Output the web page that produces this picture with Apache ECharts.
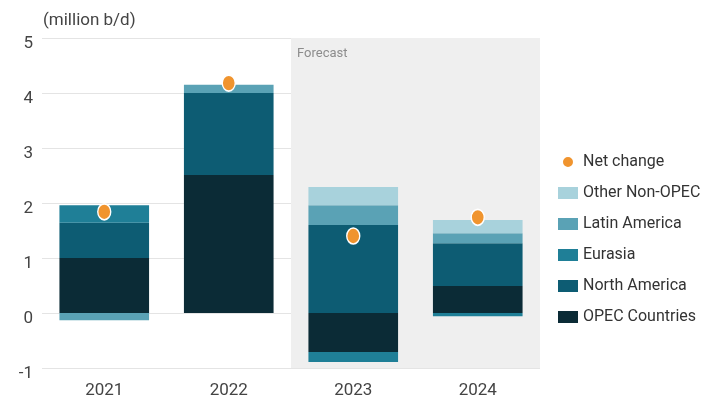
<!DOCTYPE html>
<html>
<head>
<meta charset="utf-8">
<script src="https://cdn.jsdelivr.net/npm/echarts@6/dist/echarts.min.js"></script>
<style>
  html, body { margin: 0; padding: 0; background: #fff; }
  #chart { width: 714px; height: 403px; }
</style>
</head>
<body>
<div id="chart"></div>
<script>
let years = ['2021', '2022', '2023', '2024'];
let yTicks = [-1, 0, 1, 2, 3, 4, 5];

// supply change by region, million b/d
let opec = [1.0, 2.51, -0.71, 0.49];
let northAmerica = [0.64, 1.49, 1.6, 0.78];
let eurasia = [0.32, 0, -0.18, -0.06];
let latinAmerica = [-0.13, 0.15, 0.36, 0.18];
let otherNonOpec = [0, 0, 0.33, 0.24];
let netChange = [1.84, 4.18, 1.4, 1.74];

// forecast band, in category index units
let forecastFrom = 1.5;
let forecastTo = 3.5;

let chartDom = document.getElementById('chart');
let myChart = echarts.init(chartDom);
let font = 'Roboto';

function barSeries(name, data, color) {
	return {
		name: name,
		type: 'bar',
		stack: 'supply',
		barWidth: '72%',
		z: 3,
		itemStyle: {
			color: color
		},
		data: data
	};
}

let option = {
	textStyle: {
		fontFamily: font
	},
	animation: false,
	title: {
		text: '(million b/d)',
		left: 38,
		top: 7,
		textStyle: {
			fontSize: 17,
			fontWeight: 'normal',
			color: '#444',
			fontFamily: font
		}
	},
	grid: {
		left: 42,
		right: 174,
		top: 38,
		bottom: 35
	},
	legend: {
		orient: 'vertical',
		left: 553,
		top: 149,
		itemWidth: 20,
		itemHeight: 12,
		itemGap: 15,
		textStyle: {
			fontSize: 16,
			color: '#333',
			fontFamily: font
		},
		data: [
			{ name: 'Net change', icon: 'circle' },
			{ name: 'Other Non-OPEC', icon: 'rect' },
			{ name: 'Latin America', icon: 'rect' },
			{ name: 'Eurasia', icon: 'rect' },
			{ name: 'North America', icon: 'rect' },
			{ name: 'OPEC Countries', icon: 'rect' }
		]
	},
	xAxis: [{
			type: 'category',
			data: years,
			axisLine: { show: false },
			axisTick: { show: false },
			axisLabel: {
				fontSize: 17,
				color: '#444',
				margin: 14
			}
		},
		{
			type: 'value',
			min: -0.5,
			max: 3.5,
			show: false
		}
	],
	yAxis: {
		type: 'value',
		min: yTicks[0],
		max: yTicks[yTicks.length - 1],
		interval: 1,
		axisLine: { show: false },
		axisTick: { show: false },
		axisLabel: {
			fontSize: 17,
			color: '#444',
			margin: 9,
			verticalAlign: 'top',
			lineHeight: 11
		},
		splitLine: {
			lineStyle: {
				color: '#e4e4e4'
			}
		}
	},
	series: [{
			name: 'forecast',
			type: 'line',
			xAxisIndex: 1,
			data: [[forecastFrom, null]],
			symbol: 'none',
			silent: true,
			z: 1,
			markArea: {
				silent: true,
				itemStyle: {
					color: '#efefef'
				},
				label: {
					show: true,
					position: 'insideTopLeft',
					color: '#8c8c8c',
					fontSize: 13,
					fontFamily: font,
					offset: [1, 4]
				},
				data: [
					[{ name: 'Forecast', xAxis: forecastFrom }, { xAxis: forecastTo }]
				]
			}
		},
		barSeries('OPEC Countries', opec, '#0b2b36'),
		barSeries('North America', northAmerica, '#0d5c73'),
		barSeries('Eurasia', eurasia, '#1f7f97'),
		barSeries('Latin America', latinAmerica, '#5aa2b5'),
		barSeries('Other Non-OPEC', otherNonOpec, '#a8d2dc'),
		{
			name: 'Net change',
			type: 'scatter',
			symbol: 'circle',
			symbolSize: [13, 16],
			z: 5,
			itemStyle: {
				color: '#f0942e',
				opacity: 1,
				borderColor: '#fff',
				borderWidth: 1.5
			},
			data: netChange
		}
	]
};

option && myChart.setOption(option);
</script>
</body>
</html>
